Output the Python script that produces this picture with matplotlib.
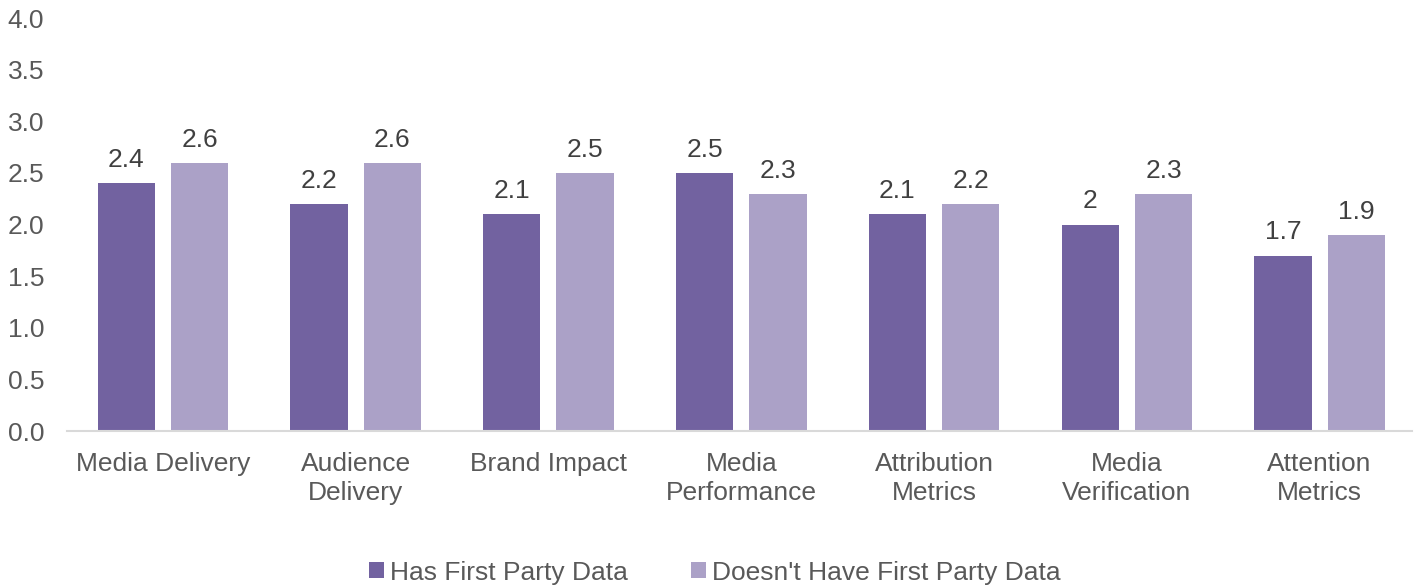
import numpy as np
import matplotlib
matplotlib.use("Agg")
from matplotlib import pyplot as plt

# chart data
categories = ["Media Delivery", "Audience\nDelivery", "Brand Impact", "Media\nPerformance",
              "Attribution\nMetrics", "Media\nVerification", "Attention\nMetrics"]
has_fpd = [2.4, 2.2, 2.1, 2.5, 2.1, 2.0, 1.7]
no_fpd = [2.6, 2.6, 2.5, 2.3, 2.2, 2.3, 1.9]
series_names = ["Has First Party Data", "Doesn't Have First Party Data"]

dark = "#7262A0"
light = "#ABA1C7"
text_col = "#595959"

plt.rcParams['font.family'] = ['Liberation Sans', 'DejaVu Sans']

fig = plt.figure(figsize=(14.16, 5.86), dpi=100)
ax = fig.add_axes([0.047, 0.2645, 0.953, 0.7045])

x = np.arange(len(categories))
w = 0.297
off = (w + 0.083) / 2
b1 = ax.bar(x - off, has_fpd, w, color=dark, label=series_names[0])
b2 = ax.bar(x + off, no_fpd, w, color=light, label=series_names[1])

# value labels above each bar
for bars, vals in [(b1, has_fpd), (b2, no_fpd)]:
    for bar, v in zip(bars, vals):
        lab = "%g" % v
        ax.annotate(lab, (bar.get_x() + bar.get_width() / 2, v), xytext=(0, 8),
                    textcoords="offset points", ha="center", va="bottom",
                    fontsize=19, color="#404040")

ax.set_xlim(-0.5, len(categories) - 0.5)
ax.set_ylim(0, 4.0)
ax.set_yticks(np.arange(0, 4.01, 0.5))
ax.set_yticklabels(["%.1f" % t for t in np.arange(0, 4.01, 0.5)])
ax.set_xticks(x)
ax.set_xticklabels(categories, linespacing=1.25)
ax.tick_params(axis="both", length=0, labelsize=19, labelcolor=text_col)
ax.tick_params(axis="y", pad=16)
ax.tick_params(axis="x", pad=15)

for s in ["top", "right", "left"]:
    ax.spines[s].set_visible(False)
ax.spines["bottom"].set_color("#D9D9D9")
ax.spines["bottom"].set_linewidth(1.5)
ax.spines["bottom"].set_bounds(-0.5, len(categories) - 0.52)

leg = fig.legend(handles=[b1, b2], loc="center", bbox_to_anchor=(0.505, 0.023), ncol=2,
                 frameon=False, fontsize=19, handlelength=0.55, handleheight=0.55,
                 handletextpad=0.25, columnspacing=2.4)
for t in leg.get_texts():
    t.set_color(text_col)

fig.savefig("out.png", dpi=100)
